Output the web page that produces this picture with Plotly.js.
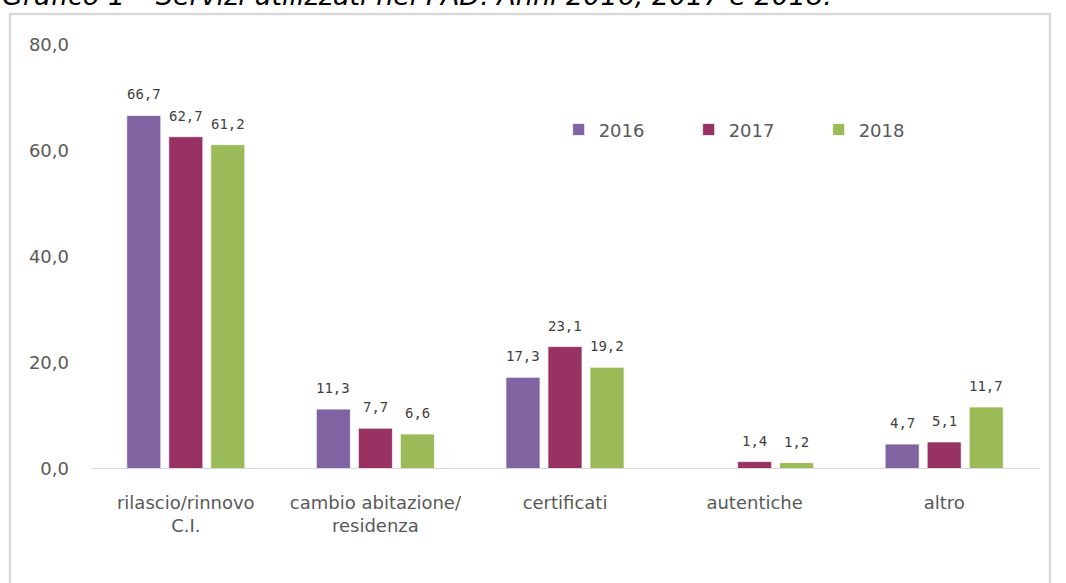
<!DOCTYPE html>
<html>
<head>
<meta charset="utf-8">
<script src="https://cdn.plot.ly/plotly-3.0.1.min.js"></script>
<style>html,body{margin:0;padding:0;background:#fff;}#chart{width:1066px;height:583px;}</style>
</head>
<body>
<div id="chart"></div>
<script>
const categories = ["rilascio/rinnovo<br>C.I.", "cambio abitazione/<br>residenza", "certificati", "autentiche", "altro"];
const values2016 = [66.7, 11.3, 17.3, null, 4.7];
const values2017 = [62.7, 7.7, 23.1, 1.4, 5.1];
const values2018 = [61.2, 6.6, 19.2, 1.2, 11.7];
const seriesNames = ["2016", "2017", "2018"];
const colors = ["#8064A2", "#983262", "#9BBB59"];
const yTicks = [0, 20, 40, 60, 80];
const titleText = "Grafico 1 – Servizi utilizzati nel PAD. Anni 2016, 2017 e 2018.";

const series = [values2016, values2017, values2018];
const traces = series.map((vals, i) => ({
  type: "bar",
  name: seriesNames[i],
  x: categories,
  y: vals,
  marker: {color: colors[i], line: {color: "rgba(255,255,255,0.7)", width: 1}},
  hoverinfo: "skip"
}));

// value labels placed via the axis scales (data coords), shifted to each bar slot
const labelAnnotations = [];
series.forEach((vals, i) => {
  vals.forEach((v, j) => {
    if (v == null) return;
    labelAnnotations.push({
      x: categories[j], y: v, xref: "x", yref: "y",
      text: v.toFixed(1).replace(".", ","),
      showarrow: false, xanchor: "center", yanchor: "bottom",
      xshift: (i - 1) * 42, yshift: 11,
      font: {family: "DejaVu Sans Mono", size: 14, color: "#404040"}
    });
  });
});

const layout = {
  width: 1066, height: 583,
  margin: {l: 91, r: 27, t: 45, b: 114},
  paper_bgcolor: "#fff", plot_bgcolor: "#fff",
  separators: ", ",
  barmode: "group",
  bargap: 0.335,
  bargroupgap: 0.19,
  showlegend: true,
  legend: {
    orientation: "h", x: 0.4933, y: 0.80, xanchor: "left", yanchor: "middle",
    entrywidth: 85, font: {family: "DejaVu Sans", size: 18, color: "#595959"},
    traceorder: "normal", bgcolor: "rgba(0,0,0,0)"
  },
  xaxis: {
    showgrid: false, zeroline: false, showline: false, ticks: "",
    tickfont: {family: "DejaVu Sans", size: 18, color: "#595959"},
    ticklabelstandoff: 21, fixedrange: true
  },
  yaxis: {
    range: [0, 80], tickvals: yTicks, tickformat: ".1f",
    showgrid: false, zeroline: false, showline: false, ticks: "",
    tickfont: {family: "DejaVu Sans", size: 18, color: "#595959"},
    ticklabelstandoff: 21, fixedrange: true
  },
  shapes: [
    {type: "line", xref: "paper", yref: "y", x0: 0, x1: 1, y0: 0, y1: 0, line: {color: "#d9d9d9", width: 2}},
    {type: "rect", xref: "paper", yref: "paper", x0: -0.0854, x1: 1.0116, y0: -0.4, y1: 1.0731, line: {color: "#d9d9d9", width: 2.5}, fillcolor: "rgba(0,0,0,0)", layer: "below"}
  ],
  annotations: labelAnnotations.concat([
    {text: "<i>" + titleText + "</i>", xref: "paper", yref: "paper", x: -0.096, y: 1.076, xanchor: "left", yanchor: "bottom", showarrow: false,
     font: {family: "DejaVu Sans", size: 27, color: "#000"}}
  ])
};

Plotly.newPlot("chart", traces, layout, {displayModeBar: false, staticPlot: true});
</script>
</body>
</html>
